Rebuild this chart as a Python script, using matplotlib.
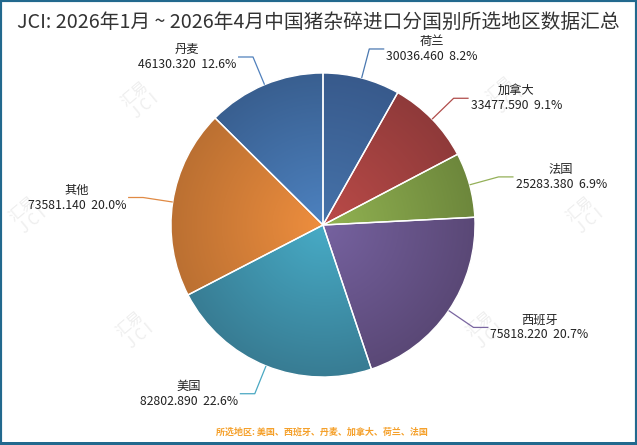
import numpy as np
import matplotlib
matplotlib.use("Agg")
import matplotlib.pyplot as plt
from matplotlib.patches import Rectangle
from matplotlib.colors import to_rgb

plt.rcParams['font.family'] = ['Noto Sans CJK SC', 'DejaVu Sans']

# ---------------- data ----------------
title = "JCI: 2026年1月 ~ 2026年4月中国猪杂碎进口分国别所选地区数据汇总"
countries = ["荷兰", "加拿大", "法国", "西班牙", "美国", "其他", "丹麦"]
values = [30036.460, 33477.590, 25283.380, 75818.220, 82802.890, 73581.140, 46130.320]
footnote = "所选地区: 美国、西班牙、丹麦、加拿大、荷兰、法国"

# ---------------- style ----------------
light_colors = ["#4673aa", "#bb4b48", "#92b352", "#7662a0", "#47abc6", "#ee8e3e", "#4d82c0"]
dark_colors = ["#385a8c", "#8f3a3a", "#6d873c", "#5a4876", "#387c93", "#bb7032", "#395f90"]
line_colors = ["#4a78b0", "#b04c4a", "#94b058", "#7a66a0", "#4aa8c2", "#e08a44", "#5080bc"]
border_color = "#22698e"

W, H = 637, 445
fig = plt.figure(figsize=(W / 100, H / 100), dpi=100)
ax = fig.add_axes([0, 0, 1, 1])

cx, cy, R = 323, H - 225, 152
wedges, _ = ax.pie(values, startangle=90, counterclock=False,
                   center=(cx, cy), radius=R,
                   wedgeprops=dict(edgecolor="white", linewidth=1.0, facecolor="none"))
ax.set_xlim(0, W)
ax.set_ylim(0, H)
ax.set_aspect("equal")
ax.axis("off")

# radial gradient fill for each wedge
n = 400
xs = np.linspace(-1, 1, n)
X, Y = np.meshgrid(xs, xs)
rr = np.clip(np.sqrt(X ** 2 + Y ** 2), 0, 1)[..., None]
for w, lc, dc in zip(wedges, light_colors, dark_colors):
    l = np.array(to_rgb(lc))
    d = np.array(to_rgb(dc))
    img = l * (1 - rr) + d * rr
    im = ax.imshow(img, extent=[cx - R, cx + R, cy - R, cy + R], origin="lower",
                   zorder=1, interpolation="bilinear")
    im.set_clip_path(w)
    w.set_zorder(3)

# leader lines and labels
total = sum(values)
L1, L2 = 30, 15
for w, name, v, col in zip(wedges, countries, values, line_colors):
    ang = np.deg2rad((w.theta1 + w.theta2) / 2)
    ux, uy = np.cos(ang), np.sin(ang)
    x0, y0 = cx + R * ux, cy + R * uy
    x1, y1 = cx + (R + L1) * ux, cy + (R + L1) * uy
    side = 1 if ux >= 0 else -1
    x2 = x1 + side * L2
    ax.plot([x0, x1, x2], [y0, y1, y1], color=col, lw=0.9, zorder=4,
            solid_capstyle="butt")
    pct = v / total * 100
    ax.text(x2 + side * 2, y1, f"{name}\n{v:.3f}  {pct:.1f}%",
            ha="left" if side > 0 else "right", va="center",
            multialignment="center", fontsize=8.8, color="#222222",
            linespacing=1.2, zorder=5)

# title
ax.text(318, H - 22, title, ha="center", va="center", fontsize=14.2, color="#333333")

# footnote
ax.text(322, H - 432, footnote, ha="center", va="center", fontsize=6.5,
        color="#f5a02a", fontweight="bold")

# faint watermarks
for (wx, wy) in [(140, 100), (505, 95), (585, 215), (135, 330), (485, 330), (28, 215)]:
    ax.text(wx, H - wy, "汇易\nJ C I", ha="center", va="center", rotation=40,
            fontsize=11, color="#c8c8c8", alpha=0.3, zorder=0.5,
            multialignment="center", linespacing=1.0)

# border
fig.patches.append(Rectangle((0, 0), 1, 1, transform=fig.transFigure, fill=False,
                             edgecolor=border_color, lw=3.0))
fig.patches.append(Rectangle((0, 0), 1, 3 / H, transform=fig.transFigure, fill=True,
                             facecolor=border_color, edgecolor="none"))

fig.savefig("out.png", dpi=100)
